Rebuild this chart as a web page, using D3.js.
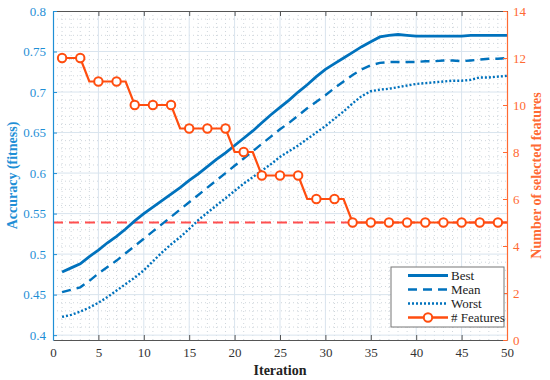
<!DOCTYPE html>
<html>
<head>
  <meta charset="UTF-8" />
  <title>Accuracy vs iteration</title>
  <script src="https://d3js.org/d3.v7.min.js"></script>
  <style>
    body { margin: 0; background: #fff; }
    svg text { font-family: 'Liberation Serif', 'Times New Roman', Times, 'DejaVu Serif', serif !important; }
  </style>
</head>
<body>
  <div id="chart"></div>

  <script>
    // data
    const iterations = d3.range(1, 51);
    const bestAcc = [0.478, 0.483, 0.488, 0.497, 0.505, 0.514, 0.522, 0.531, 0.541, 0.550,
      0.558, 0.566, 0.574, 0.582, 0.591, 0.599, 0.608, 0.617, 0.625, 0.634,
      0.643, 0.652, 0.662, 0.672, 0.681, 0.690, 0.700, 0.709, 0.719, 0.728,
      0.735, 0.742, 0.749, 0.756, 0.762, 0.768, 0.770, 0.771, 0.770, 0.769,
      0.769, 0.769, 0.769, 0.769, 0.769, 0.770, 0.770, 0.770, 0.770, 0.770];
    const meanAcc = [0.453, 0.456, 0.459, 0.467, 0.476, 0.484, 0.492, 0.501, 0.510, 0.519,
      0.528, 0.537, 0.546, 0.555, 0.564, 0.573, 0.582, 0.591, 0.600, 0.609,
      0.618, 0.627, 0.636, 0.645, 0.654, 0.662, 0.671, 0.680, 0.688, 0.696,
      0.705, 0.713, 0.721, 0.728, 0.733, 0.736, 0.737, 0.737, 0.737, 0.737,
      0.738, 0.738, 0.739, 0.739, 0.738, 0.739, 0.740, 0.741, 0.741, 0.742];
    const worstAcc = [0.4225, 0.425, 0.429, 0.434, 0.440, 0.447, 0.455, 0.463, 0.471, 0.480,
      0.491, 0.502, 0.512, 0.521, 0.531, 0.542, 0.551, 0.560, 0.569, 0.578,
      0.587, 0.595, 0.603, 0.611, 0.620, 0.627, 0.634, 0.642, 0.650, 0.658,
      0.667, 0.676, 0.686, 0.695, 0.701, 0.703, 0.704, 0.706, 0.708, 0.710,
      0.711, 0.712, 0.713, 0.714, 0.714, 0.715, 0.718, 0.718, 0.719, 0.720];
    const numFeatures = [12, 12, 12, 11, 11, 11, 11, 11, 10, 10,
      10, 10, 10, 9, 9, 9, 9, 9, 9, 8,
      8, 8, 7, 7, 7, 7, 7, 6, 6, 6,
      6, 6, 5, 5, 5, 5, 5, 5, 5, 5,
      5, 5, 5, 5, 5, 5, 5, 5, 5, 5];
    const refFeatures = 5;

    const xTicks = d3.range(0, 51, 5);
    const leftTicks = [0.4, 0.45, 0.5, 0.55, 0.6, 0.65, 0.7, 0.75, 0.8];
    const rightTicks = [0, 2, 4, 6, 8, 10, 12, 14];

    const legendNames = ["Best", "Mean", "Worst", "# Features"];

    const width = 550, height = 380;
    const mLeft = 53, mRight = 507, mTop = 11, mBottom = 340;
    const serif = "'Liberation Serif', 'Times New Roman', serif";

    const blue = "#0072bd";
    const blueText = "#1f8fd6";
    const orange = "#ff4d0f";
    const orangeText = "#ff6a33";

    const svg = d3.select("#chart")
      .append("svg")
      .attr("width", width)
      .attr("height", height)
      .attr("font-family", serif);

    const x = d3.scaleLinear().domain([0, 50]).range([mLeft, mRight]);
    const yL = d3.scaleLinear().domain([0.394, 0.8]).range([mBottom, mTop]);
    const yR = d3.scaleLinear().domain([0, 14]).range([mBottom, mTop]);

    // minor grid (dotted)
    const minorX = d3.range(1, 50).filter(d => d % 5 !== 0);
    const minorY = d3.range(40, 80).filter(d => d % 5 !== 0).map(d => d / 100);
    const grid = svg.append("g");
    grid.selectAll(".mx").data(minorX).enter().append("line")
      .attr("x1", d => x(d)).attr("x2", d => x(d))
      .attr("y1", mTop).attr("y2", mBottom)
      .attr("stroke", "#cfd6dc").attr("stroke-width", 1)
      .attr("stroke-dasharray", "1,3");
    grid.selectAll(".my").data(minorY).enter().append("line")
      .attr("x1", mLeft).attr("x2", mRight)
      .attr("y1", d => yL(d)).attr("y2", d => yL(d))
      .attr("stroke", "#cfd6dc").attr("stroke-width", 1)
      .attr("stroke-dasharray", "1,3");

    // major grid
    grid.selectAll(".gx").data(xTicks.slice(1, -1)).enter().append("line")
      .attr("x1", d => x(d)).attr("x2", d => x(d))
      .attr("y1", mTop).attr("y2", mBottom)
      .attr("stroke", "#d9e4ee").attr("stroke-width", 1);
    grid.selectAll(".gy").data(leftTicks.slice(0, -1)).enter().append("line")
      .attr("x1", mLeft).attr("x2", mRight)
      .attr("y1", d => yL(d)).attr("y2", d => yL(d))
      .attr("stroke", "#d9e4ee").attr("stroke-width", 1);

    // reference line at 5 features
    svg.append("line")
      .attr("x1", x(0)).attr("x2", x(50))
      .attr("y1", yR(refFeatures)).attr("y2", yR(refFeatures))
      .attr("stroke", "#ff4f4f").attr("stroke-width", 2)
      .attr("stroke-dasharray", "10,6");

    // accuracy lines
    const accLine = d3.line()
      .x((d, i) => x(iterations[i]))
      .y(d => yL(d));

    const series = [
      { values: bestAcc, dash: null, w: 2.8 },
      { values: meanAcc, dash: "9,6", w: 2.4 },
      { values: worstAcc, dash: "2,2", w: 2.4 }
    ];
    series.forEach(s => {
      svg.append("path")
        .datum(s.values)
        .attr("d", accLine)
        .attr("fill", "none")
        .attr("stroke", blue)
        .attr("stroke-width", s.w)
        .attr("stroke-dasharray", s.dash);
    });

    // features line
    const featLine = d3.line()
      .x((d, i) => x(iterations[i]))
      .y(d => yR(d));
    svg.append("path")
      .datum(numFeatures)
      .attr("d", featLine)
      .attr("fill", "none")
      .attr("stroke", orange)
      .attr("stroke-width", 2.2);

    svg.selectAll(".marker")
      .data(iterations.filter((d, i) => i % 2 === 0))
      .enter()
      .append("circle")
      .attr("cx", d => x(d))
      .attr("cy", d => yR(numFeatures[d - 1]))
      .attr("r", 4.2)
      .attr("fill", "#fff")
      .attr("stroke", orange)
      .attr("stroke-width", 2);

    // axes
    const xAxis = d3.axisBottom(x).tickValues(xTicks).tickFormat(d3.format("d"))
      .tickSizeInner(-5).tickSizeOuter(0).tickPadding(8);
    const gx = svg.append("g")
      .attr("transform", "translate(0," + mBottom + ")")
      .call(xAxis)
      .attr("font-family", serif).attr("font-size", 13);
    gx.select(".domain").attr("stroke", "#555");
    gx.selectAll(".tick line").attr("stroke", "#555");
    gx.selectAll("text").attr("fill", "#333");

    const xTop = d3.axisTop(x).tickValues(xTicks).tickFormat("")
      .tickSizeInner(-5).tickSizeOuter(0);
    const gxt = svg.append("g")
      .attr("transform", "translate(0," + mTop + ")")
      .call(xTop);
    gxt.select(".domain").attr("stroke", "#555");
    gxt.selectAll(".tick line").attr("stroke", "#555");

    const yAxisL = d3.axisLeft(yL).tickValues(leftTicks).tickFormat(d3.format("~g"))
      .tickSizeInner(-4).tickSizeOuter(0).tickPadding(7);
    const gyl = svg.append("g")
      .attr("transform", "translate(" + mLeft + ",0)")
      .call(yAxisL)
      .attr("font-family", serif).attr("font-size", 13);
    gyl.select(".domain").attr("stroke", blueText).attr("stroke-width", 1.2);
    gyl.selectAll(".tick line").attr("stroke", blueText);
    gyl.selectAll("text").attr("fill", blueText);

    const yAxisR = d3.axisRight(yR).tickValues(rightTicks)
      .tickSizeInner(-4).tickSizeOuter(0).tickPadding(6);
    const gyr = svg.append("g")
      .attr("transform", "translate(" + mRight + ",0)")
      .call(yAxisR)
      .attr("font-family", serif).attr("font-size", 13);
    gyr.select(".domain").attr("stroke", orangeText).attr("stroke-width", 1.2);
    gyr.selectAll(".tick line").attr("stroke", orangeText);
    gyr.selectAll("text").attr("fill", orangeText);

    // axis titles
    svg.append("text")
      .attr("x", (mLeft + mRight) / 2).attr("y", 375)
      .attr("text-anchor", "middle")
      .attr("fill", "#222")
      .attr("font-size", 14).attr("font-weight", "bold")
      .text("Iteration");

    svg.append("text")
      .attr("transform", "translate(17," + ((mTop + mBottom) / 2) + ") rotate(-90)")
      .attr("text-anchor", "middle")
      .attr("fill", blueText)
      .attr("font-size", 14).attr("font-weight", "bold")
      .text("Accuracy (fitness)");

    svg.append("text")
      .attr("transform", "translate(541," + ((mTop + mBottom) / 2) + ") rotate(-90)")
      .attr("text-anchor", "middle")
      .attr("fill", orangeText)
      .attr("font-size", 14).attr("font-weight", "bold")
      .text("Number of selected features");

    // legend
    const lg = svg.append("g").attr("transform", "translate(391,267)");
    lg.append("rect")
      .attr("width", 113).attr("height", 60)
      .attr("fill", "#fff").attr("stroke", "#777").attr("stroke-width", 1);
    const rowY = [8.5, 22.5, 36.5, 50.5];
    legendNames.forEach((name, i) => {
      const isFeat = i === 3;
      lg.append("line")
        .attr("x1", 17).attr("x2", 57)
        .attr("y1", rowY[i]).attr("y2", rowY[i])
        .attr("stroke", isFeat ? orange : blue)
        .attr("stroke-width", i === 0 ? 2.8 : 2.4)
        .attr("stroke-dasharray", i === 1 ? "9,6" : (i === 2 ? "2,2" : null));
      if (isFeat) {
        lg.append("circle")
          .attr("cx", 37).attr("cy", rowY[i]).attr("r", 4.2)
          .attr("fill", "#fff").attr("stroke", orange).attr("stroke-width", 2);
      }
      lg.append("text")
        .attr("x", 60).attr("y", rowY[i] + 4.5)
        .attr("fill", "#222")
        .attr("font-size", 13)
        .text(name);
    });
  </script>
</body>
</html>
